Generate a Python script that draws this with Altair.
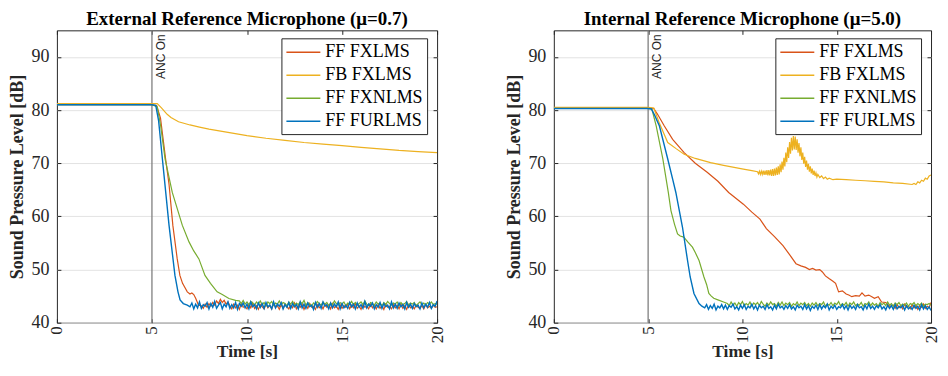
import altair as alt
import pandas as pd

SERIES = ["FF FXLMS", "FB FXLMS", "FF FXNLMS", "FF FURLMS"]
COLORS = ["#D95319", "#EDB120", "#77AC30", "#0072BD"]
X_TICKS = [0, 5, 10, 15, 20]
Y_TICKS = [40, 50, 60, 70, 80, 90]
Y_DOMAIN = [40, 95]
X_DOMAIN = [0, 20]
ANC_ON = [5]
TITLES = ["External Reference Microphone (μ=0.7)", "Internal Reference Microphone (μ=5.0)"]

# ---------------- Left panel: external reference microphone ----------------
L_FXLMS_T = [0, 5.0, 5.25, 5.45, 5.72, 5.9, 6.1, 6.33, 6.47, 6.61, 6.86, 7.0, 7.1, 7.2, 7.3, 7.45]
L_FXLMS_V = [81.0, 81.0, 80.8, 78.5, 70.8, 66.0, 58.3, 52.0, 48.9, 47.4, 45.8, 45.4, 45.6, 45.3, 44.6, 43.3]
L_FXLMS_TAIL_START = 7.6
L_FXLMS_TAIL = [43.2, 42.7, 43.5, 42.9, 43.6, 43.1, 43.8, 43.3, 44.1, 43.6,
                44.4, 43.8, 44.2, 43.5, 43.9,
                43.2, 42.6, 43.5, 42.8, 43.3, 42.5, 43.6, 42.9, 43.1, 42.6,
                43.4, 42.8, 43.7, 42.7, 43.2, 42.5, 43.4, 43.0, 42.6, 43.5,
                42.8, 43.3, 42.6, 43.6, 42.9, 43.2, 42.5, 43.4, 42.7, 43.5,
                43.0, 42.6, 43.3, 42.8, 43.7, 42.6, 43.2, 42.9, 43.5, 42.5,
                43.3, 42.7, 43.6, 42.9, 43.1, 42.5, 43.4, 42.8, 43.2, 42.6,
                43.5, 42.9, 43.3, 42.6, 43.6, 42.8, 43.1, 42.5, 43.4, 42.7,
                43.2, 42.9, 43.5, 42.6, 43.3, 42.8, 43.6, 42.7, 43.2, 42.5,
                43.4, 42.9, 43.1, 42.6, 43.5, 42.8, 43.3, 42.6, 43.4, 42.7,
                43.2, 42.5, 43.5, 42.9, 43.1, 42.6, 43.4, 42.8, 43.3, 42.6,
                43.5, 42.7, 43.2, 42.5, 43.4, 42.8, 43.1, 42.6, 43.3, 42.9,
                42.7, 43.2, 42.6, 43.4, 42.8, 43.1, 42.7, 43.3, 42.9, 43.0]

L_FB_T = [0, 5.0, 5.28, 5.5, 5.8, 6.0, 6.4, 7.0, 7.5, 8, 9, 10, 11, 12, 13, 14, 15, 16, 17, 18, 19, 20]
L_FB_V = [81.2, 81.2, 81.2, 80.4, 79.2, 78.6, 77.8, 77.2, 76.8, 76.4, 75.8, 75.2, 74.7, 74.3, 73.9,
          73.6, 73.3, 73.0, 72.7, 72.4, 72.2, 72.0]

L_FXNLMS_T = [0, 5.0, 5.28, 5.46, 5.69, 6.07, 6.6, 6.95, 7.2, 7.47, 7.79, 8.08, 8.43, 8.7, 9.05, 9.4]
L_FXNLMS_V = [81.0, 81.0, 80.6, 77.0, 70.8, 64.5, 58.3, 55.2, 53.5, 52.0, 48.9, 47.4, 45.8, 45.3, 44.55, 44.2]
L_FXNLMS_TAIL_START = 9.6
L_FXNLMS_TAIL = [44.1, 43.6, 44.2, 43.5, 43.9, 43.4, 44.0, 43.7, 43.3, 43.9,
                 43.5, 44.1, 43.4, 43.8, 43.2, 43.9, 43.6, 44.0, 43.3, 43.7,
                 43.5, 44.1, 43.4, 43.8, 43.6, 43.2, 43.9, 43.5, 44.0, 43.3,
                 43.7, 43.4, 43.9, 43.6, 44.2, 43.3, 43.8, 43.5, 43.1, 43.7,
                 43.4, 44.0, 43.6, 43.3, 43.9, 43.5, 43.8, 43.2, 43.7, 43.4,
                 44.1, 43.6, 43.3, 43.8, 43.5, 43.9, 43.2, 43.7, 43.5, 44.0,
                 43.4, 43.8, 43.3, 43.6, 43.9, 43.4, 44.1, 43.5, 43.2, 43.8,
                 43.6, 43.3, 43.9, 43.5, 43.7, 43.2, 43.8, 43.4, 44.0, 43.6,
                 43.3, 43.7, 43.5, 43.9, 43.2, 43.8, 43.4, 43.6, 44.0, 43.3,
                 43.7, 43.5, 43.8, 43.2, 43.6, 43.9, 43.4, 43.7, 43.3, 43.8,
                 43.5, 43.9, 43.4, 43.6, 43.5]

L_FURLMS_T = [0, 5.0, 5.2, 5.35, 5.55, 5.9, 6.21, 6.37, 6.48, 6.65, 6.86]
L_FURLMS_V = [81.0, 81.0, 80.9, 78.0, 70.8, 58.3, 48.9, 45.8, 44.3, 43.6, 43.3]
L_FURLMS_TAIL_START = 7.0
L_FURLMS_TAIL = [43.0, 43.7, 42.6, 43.5, 42.8, 43.9, 42.7, 43.4, 43.1, 43.8,
                 42.6, 43.6, 42.9, 44.0, 42.7, 43.3, 43.8, 42.6, 43.5, 43.0,
                 43.9, 42.7, 43.4, 42.8, 43.8, 42.5, 43.6, 43.1, 43.7, 42.8,
                 43.5, 42.6, 43.9, 43.0, 43.4, 42.6, 43.7, 42.9, 43.6, 42.7,
                 43.8, 43.0, 43.3, 42.6, 43.9, 42.8, 43.5, 43.1, 43.8, 42.6,
                 43.4, 42.9, 43.8, 42.7, 43.6, 43.0, 43.4, 42.6, 43.9, 42.8,
                 43.5, 42.7, 43.7, 43.0, 43.3, 42.5, 43.8, 42.9, 43.6, 42.7,
                 43.9, 43.1, 43.4, 42.6, 43.7, 42.8, 43.5, 43.0, 43.9, 42.6,
                 43.6, 42.8, 43.3, 42.7, 43.8, 43.0, 43.5, 42.6, 43.7, 42.9,
                 43.4, 42.7, 44.0, 42.8, 43.5, 43.1, 43.7, 42.6, 43.4, 42.9,
                 43.8, 42.7, 43.6, 43.0, 43.3, 42.6, 43.9, 42.8, 43.5, 42.7,
                 43.7, 43.0, 43.4, 42.6, 43.8, 42.9, 43.5, 42.7, 43.6, 43.0,
                 43.3, 42.6, 43.7, 42.8, 43.5, 42.9, 43.8, 42.7, 43.4, 43.1,
                 44.1]

# ---------------- Right panel: internal reference microphone ----------------
R_FXLMS_T = [0, 5.0, 5.3, 5.5, 5.86, 6.3, 6.91, 7.5, 8.13, 8.7, 9.27, 10.05, 10.5, 10.93, 11.27, 11.7,
             12.15, 12.5, 12.84, 13.1, 13.35, 13.55, 13.72, 13.9, 14.1, 14.24, 14.4, 14.59, 14.8, 14.94,
             15.1, 15.3, 15.5, 15.64, 15.8, 16.0, 16.2, 16.34, 16.5, 16.7, 16.86, 17.0, 17.2, 17.38, 17.6,
             17.8]
R_FXLMS_V = [80.4, 80.4, 80.3, 79.2, 77.0, 74.5, 72.0, 70.0, 68.3, 66.6, 64.5, 62.3, 60.8, 59.5, 57.7, 56.2,
             54.5, 52.8, 51.1, 50.7, 50.4, 50.0, 50.2, 49.9, 50.0, 49.55, 48.8, 48.3, 47.8, 47.4,
             45.8, 46.0, 45.4, 45.2, 44.9, 45.1, 45.0, 45.6, 45.0, 45.2, 44.9, 44.6, 44.9, 43.9, 43.8,
             43.1]
R_FXLMS_TAIL_START = 18.0
R_FXLMS_TAIL = [43.3, 42.7, 43.4, 42.8, 43.2, 42.6, 43.5, 42.9, 43.1, 42.6, 43.4, 42.8, 43.3, 42.5,
                43.2, 42.9, 43.5, 42.7, 43.1, 42.8, 43.8]

R_FB_T = [0, 5.0, 5.3, 5.6, 6.04, 6.5, 6.91, 7.5, 8.31, 9.0, 10.05, 10.5,
          10.80, 10.85, 10.90, 10.95, 11.00, 11.05, 11.10, 11.15, 11.20, 11.25, 11.30, 11.35, 11.40,
          11.45, 11.50, 11.55, 11.60, 11.65, 11.70, 11.75, 11.80, 11.85, 11.90, 11.95, 12.00, 12.05,
          12.10, 12.15, 12.20, 12.25, 12.30, 12.35, 12.40, 12.45, 12.50, 12.55, 12.60, 12.65, 12.70,
          12.75, 12.80, 12.85, 12.90, 12.95, 13.00, 13.05, 13.10, 13.15, 13.20, 13.25, 13.30, 13.35,
          13.40, 13.45, 13.50, 13.55, 13.60, 13.65, 13.70, 13.75, 13.80, 13.85, 13.90, 13.95, 14.00,
          14.1, 14.2, 14.3, 14.4, 14.5, 14.6, 14.8, 15.0, 15.5, 16.0, 16.5, 17.0, 17.5, 18.0, 18.5, 19.0,
          19.1, 19.2, 19.3, 19.4, 19.5, 19.6, 19.7, 19.8, 19.9, 20.0]
R_FB_V = [80.5, 80.5, 80.4, 77.5, 73.9, 72.7, 71.7, 70.9, 70.1, 69.6, 68.9, 68.6,
          68.4, 68.0, 68.5, 67.9, 68.5, 67.9, 68.6, 67.8, 68.6, 67.8, 68.7, 67.7, 68.7,
          67.7, 68.8, 67.6, 68.9, 67.6, 69.0, 67.7, 69.2, 67.8, 69.4, 67.9, 69.8, 68.3,
          70.3, 68.8, 71.0, 69.4, 72.0, 70.2, 73.0, 71.0, 74.0, 71.8, 74.8, 72.4, 75.1,
          72.6, 75.0, 72.5, 74.5, 72.0, 73.8, 71.3, 73.0, 70.6, 72.0, 69.9, 71.2, 69.3,
          70.5, 68.8, 69.9, 68.4, 69.4, 68.1, 69.0, 67.8, 68.6, 67.6, 68.2, 67.4, 67.9,
          67.3, 67.6, 67.1, 67.4, 67.0, 67.2, 66.9, 67.0, 66.9, 66.8, 66.7, 66.6, 66.5, 66.3, 66.2, 66.0,
          66.2, 66.0, 66.5, 66.3, 66.8, 66.6, 67.2, 67.0, 67.6, 67.8]

R_FXNLMS_T = [0, 5.0, 5.2, 5.43, 5.78, 6.07, 6.21, 6.4, 6.56, 6.7, 6.89, 7.1, 7.35, 7.5, 7.7, 7.96, 8.1,
              8.22, 8.35, 8.48, 8.7, 9.0]
R_FXNLMS_V = [80.3, 80.3, 80.2, 77.0, 70.8, 64.5, 61.1, 58.5, 56.7, 56.3, 56.1, 55.2, 54.2, 53.2, 51.7,
              48.6, 47.2, 45.5, 45.0, 44.6, 44.3, 43.9]
R_FXNLMS_TAIL_START = 9.2
R_FXNLMS_TAIL = [43.6, 43.2, 43.9, 43.3, 43.7, 43.1, 43.8, 43.4, 44.0, 43.2,
                 43.6, 43.3, 43.9, 43.1, 43.7, 43.4, 43.8, 43.2, 44.0, 43.5,
                 43.1, 43.7, 43.3, 43.9, 43.4, 43.6, 43.1, 43.8, 43.3, 43.9,
                 43.2, 43.7, 43.4, 43.8, 43.1, 43.6, 43.3, 43.9, 43.2, 43.7,
                 43.4, 43.8, 43.2, 43.6, 43.1, 43.7, 43.3, 43.8, 43.2, 43.6,
                 43.4, 43.9, 43.1, 43.5, 43.3, 43.8, 43.2, 43.7, 43.4, 44.0,
                 43.2, 43.6, 43.3, 43.8, 43.1, 43.7, 43.4, 43.9, 43.2, 43.5,
                 43.3, 43.8, 43.1, 43.6, 43.4, 43.9, 43.2, 43.7, 43.3, 43.6,
                 43.1, 43.8, 43.4, 43.7, 43.2, 43.9, 43.3, 43.6, 43.1, 43.7,
                 43.4, 43.8, 43.2, 43.5, 43.3, 43.7, 43.1, 43.6, 43.4, 43.8,
                 43.2, 43.6, 43.3, 43.7, 43.1, 43.5, 43.4, 43.6, 43.3]

R_FURLMS_T = [0, 5.0, 5.17, 5.35, 5.6, 6.04, 6.3, 6.47, 6.82, 7.09, 7.23, 7.43, 7.7, 7.85]
R_FURLMS_V = [80.3, 80.3, 80.2, 79.0, 77.0, 70.8, 67.0, 64.5, 58.0, 51.7, 48.6, 45.5, 43.6, 43.1]
R_FURLMS_TAIL_START = 8.0
R_FURLMS_TAIL = [42.8, 43.4, 42.5, 43.2, 42.7, 43.5, 42.4, 43.1, 42.8, 43.4,
                 42.6, 43.3, 42.5, 43.2, 42.9, 43.5, 42.6, 43.0, 42.4, 43.3,
                 42.7, 43.4, 42.5, 43.1, 42.8, 43.5, 42.6, 43.2, 42.4, 43.3,
                 42.8, 43.1, 42.5, 43.4, 42.7, 43.0, 42.4, 43.3, 42.6, 43.5,
                 42.8, 43.1, 42.5, 43.2, 42.7, 43.4, 42.6, 43.0, 42.4, 43.3,
                 42.8, 43.1, 42.5, 43.4, 42.6, 43.2, 42.3, 43.1, 42.7, 43.3,
                 42.5, 43.4, 42.6, 43.2, 42.8, 43.5, 42.4, 43.1, 42.7, 43.3,
                 42.5, 43.0, 42.8, 43.4, 42.6, 43.2, 42.4, 43.3, 42.7, 43.1,
                 42.5, 43.4, 42.8, 43.0, 42.4, 43.3, 42.6, 43.5, 42.7, 43.1,
                 42.5, 43.2, 42.8, 43.4, 42.6, 43.0, 42.4, 43.3, 42.7, 43.2,
                 42.5, 43.4, 42.6, 43.1, 42.8, 43.3, 42.4, 43.2, 42.6, 43.0,
                 42.5, 43.3, 42.7, 43.1, 42.4, 43.4, 42.6, 43.2, 42.5, 43.0,
                 42.3]


def build(series_name, times, values, tail_start=None, tail=None):
    rows = [{"t": t, "v": v, "series": series_name} for t, v in zip(times, values)]
    if tail:
        n = len(tail)
        for i, v in enumerate(tail):
            t = tail_start + (20.0 - tail_start) * i / (n - 1)
            rows.append({"t": t, "v": v, "series": series_name})
    return rows


left_rows = (build("FF FXLMS", L_FXLMS_T, L_FXLMS_V, L_FXLMS_TAIL_START, L_FXLMS_TAIL)
             + build("FB FXLMS", L_FB_T, L_FB_V)
             + build("FF FXNLMS", L_FXNLMS_T, L_FXNLMS_V, L_FXNLMS_TAIL_START, L_FXNLMS_TAIL)
             + build("FF FURLMS", L_FURLMS_T, L_FURLMS_V, L_FURLMS_TAIL_START, L_FURLMS_TAIL))
right_rows = (build("FF FXLMS", R_FXLMS_T, R_FXLMS_V, R_FXLMS_TAIL_START, R_FXLMS_TAIL)
              + build("FB FXLMS", R_FB_T, R_FB_V)
              + build("FF FXNLMS", R_FXNLMS_T, R_FXNLMS_V, R_FXNLMS_TAIL_START, R_FXNLMS_TAIL)
              + build("FF FURLMS", R_FURLMS_T, R_FURLMS_V, R_FURLMS_TAIL_START, R_FURLMS_TAIL))

SERIF = "Liberation Serif"
INK = "#262626"
XS = alt.Scale(domain=X_DOMAIN, nice=False)
YS = alt.Scale(domain=Y_DOMAIN, nice=False, zero=False)
WIDTHS = {"FF FXLMS": 1.2, "FB FXLMS": 1.2, "FF FXNLMS": 1.2, "FF FURLMS": 1.4}


def panel(rows, title, width, legend_x):
    df = pd.DataFrame(rows)
    anc = pd.DataFrame({"t": ANC_ON, "label": ["ANC On"]})
    x_main = alt.X("t:Q", scale=XS,
                   axis=alt.Axis(values=X_TICKS, title="Time [s]", labelAngle=270, labelPadding=3,
                                 titlePadding=0, ticks=True, tickSize=4, offset=-4, domain=False,
                                 tickColor=INK, labelFont=SERIF, labelFontSize=17, labelColor=INK,
                                 titleFontSize=17.5, format="d"))
    y_main = alt.Y("v:Q", scale=YS,
                   axis=alt.Axis(values=Y_TICKS, title="Sound Pressure Level [dB]", labelPadding=8,
                                 titlePadding=4, ticks=True, tickSize=4, offset=-4, domain=False,
                                 tickColor=INK, labelFont=SERIF, labelFontSize=18, labelColor=INK))
    x_none = alt.X("t:Q", scale=XS, axis=None)
    y_none = alt.Y("v:Q", scale=YS, axis=None)
    x_top = alt.X("t:Q", scale=XS,
                  axis=alt.Axis(orient="top", values=X_TICKS, labels=False, title=None, grid=False,
                                domain=False, ticks=True, tickSize=4, offset=-4, tickColor=INK))
    y_right = alt.Y("v:Q", scale=YS,
                    axis=alt.Axis(orient="right", values=Y_TICKS, labels=False, title=None, grid=False,
                                  domain=False, ticks=True, tickSize=4, offset=-4, tickColor=INK))
    color = alt.Color("series:N", scale=alt.Scale(domain=SERIES, range=COLORS),
                      legend=alt.Legend(title=None, orient="none", legendX=legend_x, legendY=8,
                                        symbolType="M-1,0H2.78", symbolSize=324, symbolStrokeWidth=1.5,
                                        labelFont=SERIF, labelFontSize=18, labelColor="#000000",
                                        labelOffset=20, rowPadding=4, padding=4,
                                        strokeColor=INK, fillColor="#ffffff", labelLimit=300))
    layers = [alt.Chart(anc).mark_rule(color="#7f7f7f", strokeWidth=1.3).encode(x=x_none)]
    for i, s in enumerate(SERIES):
        layers.append(
            alt.Chart(df).transform_filter(alt.datum.series == s)
            .mark_line(strokeWidth=WIDTHS[s], clip=True)
            .encode(x=x_main if i == 0 else x_none, y=y_main if i == 0 else y_none, color=color)
        )
    layers.append(
        alt.Chart(anc).mark_text(angle=270, align="right", baseline="top", dx=-4, dy=4,
                                 font="Liberation Sans", fontSize=12, color=INK)
        .encode(x=x_none, y=alt.value(0), text="label:N"))
    layers.append(alt.Chart(df).mark_point(opacity=0, clip=True).encode(x=x_top, y=y_right))
    return alt.layer(*layers).resolve_axis(x="independent", y="independent").properties(
        width=width, height=293,
        title=alt.TitleParams(title, font=SERIF, fontSize=19, fontWeight="bold", color="#000000",
                              offset=1, anchor="middle"))


chart = alt.hconcat(panel(left_rows, TITLES[0], 381, 225), panel(right_rows, TITLES[1], 378, 222),
                    spacing=59).resolve_legend(color="independent").configure(
    padding={"left": 0, "top": 0, "right": 0, "bottom": 0}
).configure_view(stroke=INK, strokeWidth=1).configure_axis(
    labelFont=SERIF, labelFontSize=18, labelColor=INK,
    titleFont=SERIF, titleFontSize=18, titleFontWeight="bold", titleColor=INK,
    gridColor="#e3e3e3", gridWidth=1
)

chart.save("out.html", embed_options={"renderer": "svg", "actions": False})
